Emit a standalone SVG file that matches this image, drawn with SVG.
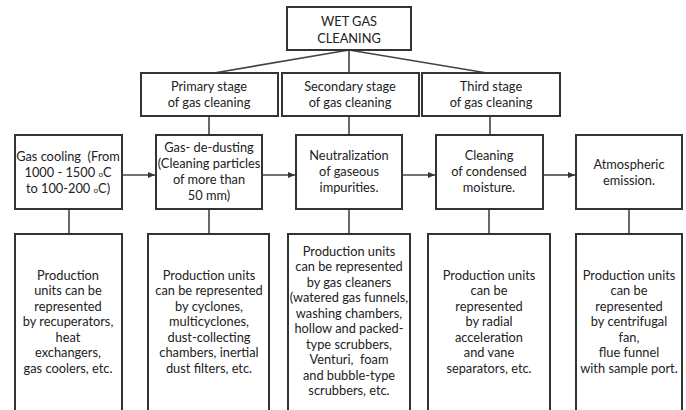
<svg xmlns="http://www.w3.org/2000/svg" width="686" height="410" viewBox="0 0 686 410">
<style>
.box{fill:#fff;stroke:#333;stroke-width:2}
.ln{fill:none;stroke:#444;stroke-width:1.6}
text{font-family:Lato,"Liberation Sans",sans-serif;font-size:12.8px;fill:#222;text-anchor:middle}
.sm{font-size:8px}
</style>
<defs>
<marker id="ah" markerWidth="8" markerHeight="6" refX="7" refY="3" orient="auto" markerUnits="userSpaceOnUse">
<path d="M0,0 L7,3 L0,6 Z" fill="#333"/>
</marker>
</defs>
<rect width="686" height="410" fill="#fff"/>
<g id="connectors">
<path class="ln" d="M349,50 L214,73 M349,50 L349,73 M349,50 L487,73"/>
<path class="ln" d="M209,116 V135 M349,116 V135 M490,116 V135"/>
<path class="ln" d="M69,209 V234 M209,209 V234 M349,209 V234 M489,209 V234 M629,209 V234"/>
<path class="ln" d="M122,175 H155" marker-end="url(#ah)"/>
<path class="ln" d="M262,175 H295" marker-end="url(#ah)"/>
<path class="ln" d="M402,175 H435" marker-end="url(#ah)"/>
<path class="ln" d="M543,175 H575" marker-end="url(#ah)"/>
</g>
<g id="wet">
<rect class="box" x="287" y="7" width="124" height="43"/>
<text x="349" y="26">WET GAS</text>
<text x="349" y="43">CLEANING</text>
</g>
<g id="primary">
<rect class="box" x="141" y="73" width="137" height="43"/>
<text x="209" y="91">Primary stage</text>
<text x="209" y="107">of gas cleaning</text>
</g>
<g id="secondary">
<rect class="box" x="282" y="73" width="137" height="43"/>
<text x="350" y="91">Secondary stage</text>
<text x="350" y="107">of gas cleaning</text>
</g>
<g id="third">
<rect class="box" x="422" y="73" width="138" height="43"/>
<text x="491" y="91">Third stage</text>
<text x="491" y="107">of gas cleaning</text>
</g>
<g id="cooling">
<rect class="box" x="15" y="135" width="107" height="74"/>
<text x="68" y="161" xml:space="preserve">Gas cooling  (From</text>
<text x="68" y="177">1000 - 1500 <tspan class="sm">o</tspan>C</text>
<text x="68" y="193">to 100-200 <tspan class="sm">o</tspan>C)</text>
</g>
<g id="dedusting">
<rect class="box" x="156" y="135" width="106" height="74"/>
<text x="209" y="152">Gas- de-dusting</text>
<text x="209" y="168">(Cleaning particles</text>
<text x="209" y="184">of more than</text>
<text x="209" y="200">50 mm)</text>
</g>
<g id="neutral">
<rect class="box" x="296" y="135" width="106" height="74"/>
<text x="349" y="160">Neutralization</text>
<text x="349" y="176">of gaseous</text>
<text x="349" y="192">impurities.</text>
</g>
<g id="condensed">
<rect class="box" x="436" y="135" width="107" height="74"/>
<text x="489" y="160">Cleaning</text>
<text x="489" y="176">of condensed</text>
<text x="489" y="192">moisture.</text>
</g>
<g id="emission">
<rect class="box" x="576" y="135" width="106" height="74"/>
<text x="629" y="169">Atmospheric</text>
<text x="629" y="185">emission.</text>
</g>
<g id="units1">
<rect class="box" x="15" y="234" width="107" height="180"/>
<text x="68" y="280">Production</text>
<text x="68" y="295">units can be</text>
<text x="68" y="311">represented</text>
<text x="68" y="326">by recuperators,</text>
<text x="68" y="342">heat</text>
<text x="68" y="357">exchangers,</text>
<text x="68" y="373">gas coolers, etc.</text>
</g>
<g id="units2">
<rect class="box" x="148" y="234" width="121" height="180"/>
<text x="209" y="280">Production units</text>
<text x="209" y="295">can be represented</text>
<text x="209" y="311">by cyclones,</text>
<text x="209" y="326">multicyclones,</text>
<text x="209" y="342">dust-collecting</text>
<text x="209" y="357">chambers, inertial</text>
<text x="209" y="373">dust filters, etc.</text>
</g>
<g id="units3">
<rect class="box" x="288" y="234" width="122" height="180"/>
<text x="349" y="256">Production units</text>
<text x="349" y="271">can be represented</text>
<text x="349" y="287">by gas cleaners</text>
<text x="349" y="302">(watered gas funnels,</text>
<text x="349" y="318">washing chambers,</text>
<text x="349" y="333">hollow and packed-</text>
<text x="349" y="349">type scrubbers,</text>
<text x="349" y="364" xml:space="preserve">Venturi,  foam</text>
<text x="349" y="380">and bubble-type</text>
<text x="349" y="395">scrubbers, etc.</text>
</g>
<g id="units4">
<rect class="box" x="428" y="234" width="122" height="180"/>
<text x="489" y="280">Production units</text>
<text x="489" y="295">can be</text>
<text x="489" y="311">represented</text>
<text x="489" y="326">by radial</text>
<text x="489" y="342">acceleration</text>
<text x="489" y="357">and vane</text>
<text x="489" y="373">separators, etc.</text>
</g>
<g id="units5">
<rect class="box" x="576" y="234" width="106" height="180"/>
<text x="629" y="280">Production units</text>
<text x="629" y="295">can be</text>
<text x="629" y="311">represented</text>
<text x="629" y="326">by centrifugal</text>
<text x="629" y="342">fan,</text>
<text x="629" y="357">flue funnel</text>
<text x="629" y="373">with sample port.</text>
</g>
</svg>
